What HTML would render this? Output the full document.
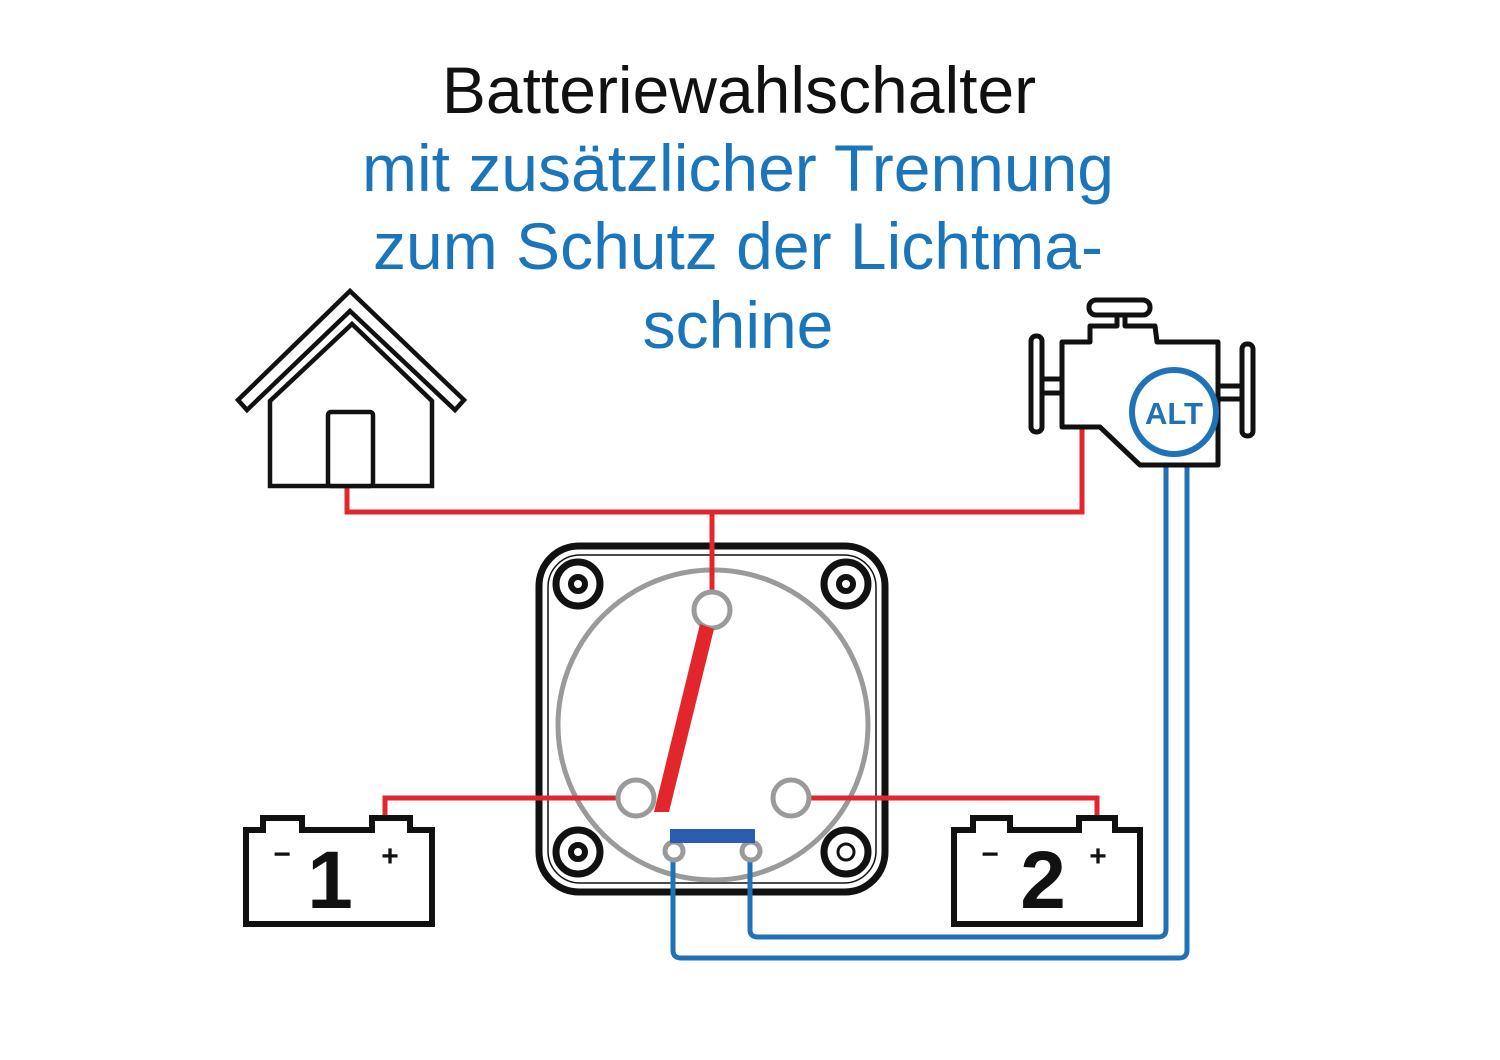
<!DOCTYPE html>
<html><head><meta charset="utf-8"><style>
html,body{margin:0;padding:0;background:#fff;}
svg{display:block;}
</style></head><body>
<svg width="1500" height="1060" viewBox="0 0 1500 1060" xmlns="http://www.w3.org/2000/svg">
<rect width="1500" height="1060" fill="#fff"/>
<g font-family="Liberation Sans, Arial, sans-serif" font-size="66" text-anchor="middle">
<text x="739" y="113" fill="#111">Batteriewahlschalter</text>
<text x="738" y="191" fill="#1a75bb">mit zusätzlicher Trennung</text>
<text x="738" y="269" fill="#1a75bb">zum Schutz der Lichtma-</text>
<text x="738" y="348" fill="#1a75bb">schine</text>
</g>

<!-- red wires outside -->
<g fill="none" stroke="#e3262c" stroke-width="5">
<polyline points="347,486 347,512 1082,512 1082,428"/>
</g>

<!-- blue wires -->
<g fill="none" stroke="#1f72b8" stroke-width="5" stroke-linejoin="round">
<path d="M673,852 L673,950 Q673,958 681,958 L1179,958 Q1187,958 1187,950 L1187,452"/>
<path d="M750,852 L750,930 Q750,937 758,937 L1158,937 Q1166,937 1166,929 L1166,452"/>
</g>

<!-- house -->
<g fill="#fff" stroke="#111" stroke-width="4.5" stroke-linejoin="miter">
<polygon points="238,400 350,291 464,400 455,410 350,311 247,410"/>
<polygon points="270,486 270,401 352,324 432,401 432,486"/>
<rect x="328" y="412" width="45" height="74" rx="3"/>
</g>

<!-- engine -->
<g fill="#fff" stroke="#111" stroke-width="5" stroke-linejoin="round">
<rect x="1031" y="336" width="11" height="96" rx="5"/>
<rect x="1242" y="344" width="11" height="92" rx="5"/>
<path d="M1042,379 L1062,379 M1042,393 L1062,393 M1218,386 L1242,386 M1218,399 L1242,399" fill="none"/>
<path d="M1062,342 L1090,342 L1090,326 L1117,326 L1117,314 L1125,314 L1125,326 L1155,326 L1157,342 L1218,342 L1218,465 L1140,465 L1100,427 L1062,427 Z"/>
<rect x="1089" y="300" width="61" height="15" rx="7"/>
</g>
<circle cx="1174" cy="412" r="42" fill="#fff" stroke="#1f72b8" stroke-width="6"/>
<text x="1174" y="424" font-family="Liberation Sans, Arial, sans-serif" font-weight="bold" font-size="31" fill="#1f72b8" text-anchor="middle">ALT</text>

<!-- switch -->
<rect x="539" y="546" width="346" height="346" rx="40" fill="#fff" stroke="#111" stroke-width="7"/>
<rect x="548" y="555" width="328" height="328" rx="32" fill="none" stroke="#111" stroke-width="1.5"/>
<circle cx="713" cy="725" r="155" fill="none" stroke="#9a9a9a" stroke-width="5"/>
<g fill="none" stroke="#111">
<circle cx="578" cy="584" r="22" stroke-width="7"/><circle cx="578" cy="584" r="7" stroke-width="6"/>
<circle cx="846" cy="584" r="22" stroke-width="7"/><circle cx="846" cy="584" r="7" stroke-width="6"/>
<circle cx="578" cy="852" r="22" stroke-width="7"/><circle cx="578" cy="852" r="7" stroke-width="6"/>
<circle cx="846" cy="852" r="22" stroke-width="7"/><circle cx="846" cy="852" r="8" stroke-width="3"/>
</g>
<g fill="none" stroke="#e3262c" stroke-width="5">
<line x1="712" y1="512" x2="712" y2="595"/>
<polyline points="620,798 385,798 385,820"/>
<polyline points="808,798 1097,798 1097,820"/>
</g>
<g stroke="#1f72b8" stroke-width="5"><line x1="673" y1="852" x2="673" y2="900"/><line x1="750" y1="852" x2="750" y2="900"/></g>
<g fill="#fff" stroke="#9a9a9a" stroke-width="5">
<circle cx="712" cy="610" r="18"/>
<circle cx="636" cy="798" r="18"/>
<circle cx="791" cy="798" r="18"/>
<circle cx="674" cy="851" r="9"/>
<circle cx="751" cy="851" r="9"/>
</g>
<polygon points="700,624 714,629 669,812 654,812" fill="#e3262c"/>
<rect x="670" y="829" width="85" height="14" fill="#2a5db0"/>

<!-- battery 1 -->
<g fill="#fff" stroke="#111" stroke-width="6" stroke-linejoin="miter">
<path d="M246,830 L263,830 L263,818 L302,818 L302,830 L372,830 L372,818 L410,818 L410,830 L432,830 L432,924 L246,924 Z"/>
</g>
<g font-family="Liberation Sans, Arial, sans-serif" font-weight="bold" fill="#111" text-anchor="middle">
<text x="330" y="908" font-size="82">1</text>
<text x="282" y="864" font-size="30">−</text>
<text x="390" y="866" font-size="30">+</text>
</g>

<!-- battery 2 -->
<g fill="#fff" stroke="#111" stroke-width="6">
<path d="M954,830 L973,830 L973,818 L1010,818 L1010,830 L1079,830 L1079,818 L1115,818 L1115,830 L1140,830 L1140,924 L954,924 Z"/>
</g>
<g font-family="Liberation Sans, Arial, sans-serif" font-weight="bold" fill="#111" text-anchor="middle">
<text x="1043" y="908" font-size="82">2</text>
<text x="990" y="864" font-size="30">−</text>
<text x="1098" y="866" font-size="30">+</text>
</g>
</svg>
</body></html>
